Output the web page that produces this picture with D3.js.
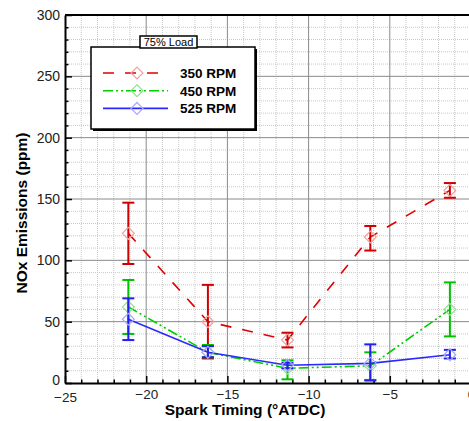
<!DOCTYPE html>
<html>
<head>
<meta charset="utf-8">
<script src="https://cdn.jsdelivr.net/npm/d3@7.9.0/dist/d3.min.js"></script>
<style>
  html, body { margin: 0; padding: 0; background: #fff; overflow: hidden; }
  svg { display: block; font-family: "Liberation Sans", Arial, sans-serif; }
</style>
</head>
<body>
<div id="chart"></div>
<script>
// spark timing (deg ATDC) for each test point
const timing = [-21.1, -16.2, -11.3, -6.2, -1.3];

const nox350 = [122, 50, 35, 119, 157];
const hi350 = [147, 80, 41, 128, 163];
const lo350 = [97, 20, 29, 108, 151];

const nox450 = [62, 25, 12, 14, 60];
const hi450 = [84, 31, 18.5, 25, 82];
const lo450 = [40, 21, 3, 2.5, 38];

const nox525 = [52, 25, 14.5, 16, 23];
const hi525 = [69, 30, 16.5, 31.5, 27];
const lo525 = [35, 21, 12, 2, 20];

const xTicks = [-25, -20, -15, -10, -5, 0];
const yTicks = [0, 50, 100, 150, 200, 250, 300];

const series = [
  { name: '350 RPM', y: nox350, hi: hi350, lo: lo350, line: '#e00000', err: '#d00000', mark: '#f4a0a0', dash: '11,11' },
  { name: '450 RPM', y: nox450, hi: hi450, lo: lo450, line: '#00cc00', err: '#00c000', mark: '#90e090', dash: '10,3,2,3,2,3' },
  { name: '525 RPM', y: nox525, hi: hi525, lo: lo525, line: '#2a2aff', err: '#2020f0', mark: '#a8a8ff', dash: null },
];

const width = 469, height = 421;
const margin = { top: 15, right: -2, bottom: 38, left: 65 };

const svg = d3.select('#chart').append('svg')
  .attr('width', width)
  .attr('height', height);

const x = d3.scaleLinear().domain([-25, 0]).range([margin.left, width - margin.right]);
const y = d3.scaleLinear().domain([0, 300]).range([height - margin.bottom, margin.top]);

// minor gridlines (dotted)
const minorX = d3.range(-24, 0, 1).filter(d => d % 5 !== 0);
const minorY = d3.range(10, 300, 10).filter(d => d % 50 !== 0);

svg.append('g')
  .selectAll('line')
  .data(minorX)
  .join('line')
  .attr('x1', d => x(d)).attr('x2', d => x(d))
  .attr('y1', y(0)).attr('y2', y(300))
  .attr('stroke', '#c8c8c8')
  .attr('stroke-dasharray', '1,1');

svg.append('g')
  .selectAll('line')
  .data(minorY)
  .join('line')
  .attr('x1', x(-25)).attr('x2', x(0))
  .attr('y1', d => y(d)).attr('y2', d => y(d))
  .attr('stroke', '#c8c8c8')
  .attr('stroke-dasharray', '1,1');

// major gridlines
svg.append('g')
  .selectAll('line')
  .data(xTicks.slice(1))
  .join('line')
  .attr('x1', d => x(d)).attr('x2', d => x(d))
  .attr('y1', y(0)).attr('y2', y(300))
  .attr('stroke', '#8a8a8a');

svg.append('g')
  .selectAll('line')
  .data(yTicks.slice(1, -1))
  .join('line')
  .attr('x1', x(-25)).attr('x2', x(0))
  .attr('y1', d => y(d)).attr('y2', d => y(d))
  .attr('stroke', '#8a8a8a');

// axes with inward ticks
const xAxis = svg.append('g')
  .attr('transform', `translate(0, ${y(0)})`)
  .call(d3.axisBottom(x).tickValues(xTicks).tickSizeInner(-7).tickSizeOuter(0).tickPadding(6));
svg.append('g')
  .attr('transform', `translate(0, ${y(0)})`)
  .call(d3.axisBottom(x).tickValues(minorX).tickSize(-3.5).tickFormat(''))
  .call(g => g.select('.domain').remove());

const yAxis = svg.append('g')
  .attr('transform', `translate(${x(-25)}, 0)`)
  .call(d3.axisLeft(y).tickValues(yTicks).tickSizeInner(-7).tickSizeOuter(0).tickPadding(5));
svg.append('g')
  .attr('transform', `translate(${x(-25)}, 0)`)
  .call(d3.axisLeft(y).tickValues(minorY).tickSize(-3.5).tickFormat(''))
  .call(g => g.select('.domain').remove());

svg.selectAll('.domain').attr('stroke', '#000').attr('stroke-width', 2);
svg.selectAll('.tick line').attr('stroke', '#000').attr('stroke-width', 1.5);
xAxis.selectAll('text').attr('font-size', 13.5).attr('fill', '#222')
  .attr('font-family', '"Liberation Sans", Arial, sans-serif');
yAxis.selectAll('text').attr('font-size', 14).attr('fill', '#222')
  .attr('font-family', '"Liberation Sans", Arial, sans-serif');
xAxis.select('.tick text').attr('dy', '0.95em');
yAxis.select('.tick text').attr('dy', '0.1em');

// top border
svg.append('line')
  .attr('x1', x(-25)).attr('x2', x(0))
  .attr('y1', y(300)).attr('y2', y(300))
  .attr('stroke', '#000').attr('stroke-width', 2);

// axis titles
svg.append('text')
  .attr('x', 245).attr('y', 415)
  .attr('text-anchor', 'middle')
  .attr('font-size', 15.5).attr('font-weight', 'bold')
  .text('Spark Timing (°ATDC)');

svg.append('text')
  .attr('transform', 'translate(27, 213) rotate(-90)')
  .attr('text-anchor', 'middle')
  .attr('font-size', 15.5).attr('font-weight', 'bold')
  .text('NOx Emissions (ppm)');

const diamond = d3.symbol().type(d3.symbolDiamond2).size(90);

// data
series.forEach(s => {
  const pts = timing.map((t, i) => ({ t, v: s.y[i], hi: s.hi[i], lo: s.lo[i] }));
  const g = svg.append('g');

  g.append('path')
    .datum(pts)
    .attr('fill', 'none')
    .attr('stroke', s.line)
    .attr('stroke-width', 1.6)
    .attr('stroke-dasharray', s.dash)
    .attr('d', d3.line().x(d => x(d.t)).y(d => y(d.v)));

  const eb = g.selectAll('g.err').data(pts).join('g').attr('class', 'err')
    .attr('stroke', s.err).attr('stroke-width', 2);
  eb.append('line')
    .attr('x1', d => x(d.t)).attr('x2', d => x(d.t))
    .attr('y1', d => y(d.hi)).attr('y2', d => y(d.lo));
  eb.append('line')
    .attr('x1', d => x(d.t) - 6).attr('x2', d => x(d.t) + 6)
    .attr('y1', d => y(d.hi)).attr('y2', d => y(d.hi));
  eb.append('line')
    .attr('x1', d => x(d.t) - 6).attr('x2', d => x(d.t) + 6)
    .attr('y1', d => y(d.lo)).attr('y2', d => y(d.lo));

  g.selectAll('path.mark').data(pts).join('path').attr('class', 'mark')
    .attr('transform', d => `translate(${x(d.t)}, ${y(d.v)})`)
    .attr('d', diamond)
    .attr('fill', 'none')
    .attr('stroke', s.mark)
    .attr('stroke-width', 1.2);
});

// legend
const lg = svg.append('g').attr('transform', 'translate(91, 47)');
lg.append('rect').attr('x', 2).attr('y', 2).attr('width', 164).attr('height', 82).attr('fill', '#000');
lg.append('rect').attr('width', 164).attr('height', 82)
  .attr('fill', '#fff').attr('stroke', '#000').attr('stroke-width', 1.5);

series.forEach((s, i) => {
  const ry = 26 + i * 17.7;
  lg.append('line')
    .attr('x1', 12).attr('x2', 77)
    .attr('y1', ry).attr('y2', ry)
    .attr('stroke', s.line).attr('stroke-width', 1.6)
    .attr('stroke-dasharray', s.dash);
  lg.append('path')
    .attr('transform', `translate(46, ${ry})`)
    .attr('d', diamond)
    .attr('fill', 'none')
    .attr('stroke', s.mark)
    .attr('stroke-width', 1.2);
  lg.append('text')
    .attr('x', 89).attr('y', ry + 5)
    .attr('font-size', 13.5).attr('font-weight', 'bold')
    .text(s.name);
});

// title box
const tb = svg.append('g').attr('transform', 'translate(140, 36)');
tb.append('rect').attr('width', 57).attr('height', 12)
  .attr('fill', '#fff').attr('stroke', '#000').attr('stroke-width', 1.5);
tb.append('text').attr('x', 28.5).attr('y', 10)
  .attr('text-anchor', 'middle')
  .attr('font-size', 11)
  .text('75% Load');
</script>
</body>
</html>
